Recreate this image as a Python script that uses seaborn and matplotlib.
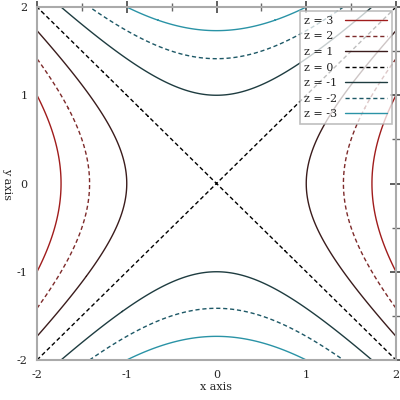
import numpy as np
import matplotlib
matplotlib.use("Agg")
import matplotlib.pyplot as plt
import seaborn as sns
from matplotlib.lines import Line2D
from matplotlib.ticker import MultipleLocator

sns.set_style("white")
plt.rcParams['font.family'] = ['DejaVu Serif']
plt.rcParams['axes.unicode_minus'] = False

# contour levels of z = x^2 - y^2
levels = [3, 2, 1, 0, -1, -2, -3]
level_colors = ['#a01c1c', '#7d2a2a', '#3b1c1c', '#000000', '#1e3c40', '#1d5866', '#2a93a6']
level_styles = ['-', '--', '-', '--', '-', '--', '-']

x = np.linspace(-2, 2, 401)
y = np.linspace(-2, 2, 401)
X, Y = np.meshgrid(x, y)
Z = X**2 - Y**2

fig = plt.figure(figsize=(4, 4), dpi=100)
ax = fig.add_axes([37/400, 40/400, 359/400, 353/400])

dash = (0, (3, 2))
for lv, col, ls in zip(levels, level_colors, level_styles):
    ax.contour(X, Y, Z, levels=[lv], colors=[col], linewidths=1.0,
               linestyles=[dash] if ls == '--' else ['solid'])

ax.set_xlim(-2, 2)
ax.set_ylim(-2, 2)
ax.xaxis.set_major_locator(MultipleLocator(1))
ax.yaxis.set_major_locator(MultipleLocator(1))
ax.xaxis.set_minor_locator(MultipleLocator(0.5))
ax.yaxis.set_minor_locator(MultipleLocator(0.5))
ax.tick_params(which='both', direction='inout', top=True, right=True,
               labelsize=8, pad=3)
ax.tick_params(which='major', length=8, width=1.2, color='#444444')
ax.tick_params(which='minor', length=6, width=1, color='#666666')
for s in ax.spines.values():
    s.set_color('#aaaaaa')
    s.set_linewidth(1.5)

ax.set_xlabel('x axis', fontsize=8, labelpad=2)
fig.text(7/400, 1 - 184/400, 'y axis', fontsize=8, rotation=270,
         ha='center', va='center')

handles = [Line2D([0], [0], color=c, lw=1.0,
                  linestyle=dash if s == '--' else '-')
           for c, s in zip(level_colors, level_styles)]
labels = [f'z = {lv}' for lv in levels]
leg = ax.legend(handles, labels, loc='upper right', fontsize=8,
                markerfirst=False, fancybox=False, framealpha=0.75,
                edgecolor='#aaaaaa', handlelength=3.8, handletextpad=0.7,
                labelspacing=0.5, borderaxespad=0.4)
leg.get_frame().set_linewidth(1.2)

# left-align the label texts, keep the line samples on the right
fig.canvas.draw()
renderer = fig.canvas.get_renderer()
rows = [r for col in leg._legend_handle_box.get_children() for r in col.get_children()]
w = max(r.get_bbox(renderer).width for r in rows)
for r in rows:
    r.mode = 'expand'
    r.width = w

fig.savefig('out.png', dpi=100)
